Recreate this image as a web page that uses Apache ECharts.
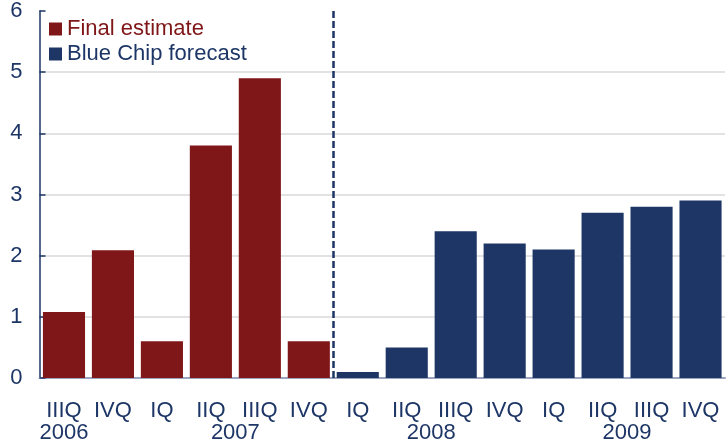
<!DOCTYPE html>
<html>
<head>
<meta charset="utf-8">
<script src="https://cdn.jsdelivr.net/npm/echarts@6/dist/echarts.min.js"></script>
<style>html,body{margin:0;padding:0;background:#fff}#c{width:728px;height:445px}</style>
</head>
<body>
<div id="c"></div>
<script>
const quarters = ['IIIQ','IVQ','IQ','IIQ','IIIQ','IVQ','IQ','IIQ','IIIQ','IVQ','IQ','IIQ','IIIQ','IVQ'];
const finalEstimate = [1.08, 2.09, 0.6, 3.8, 4.9, 0.6, null, null, null, null, null, null, null, null];
const blueChip = [null, null, null, null, null, null, 0.1, 0.5, 2.4, 2.2, 2.1, 2.7, 2.8, 2.9];
// year labels placed on a half-step axis (29 positions from 0 to 14)
const yearLabels = {1: '2006', 8: '2007', 16: '2008', 24: '2009'};
const forecastStartIndex = 6;

const RED = '#7f1618';
const BLUE = '#1d3666';
const FONT = 'Liberation Sans, Arial, sans-serif';

const halfSteps = [];
for (let i = 0; i <= 28; i++) halfSteps.push(yearLabels[i] || '');

const chart = echarts.init(document.getElementById('c'), null, {renderer: 'canvas'});
chart.setOption({
  animation: false,
  backgroundColor: '#fff',
  grid: {left: 39.5, right: 0, top: 10, bottom: 67, containLabel: false},
  legend: {
    orient: 'vertical', left: 44, top: 13,
    itemWidth: 13, itemHeight: 13, itemGap: 3,
    icon: 'rect',
    textStyle: {fontSize: 22, fontFamily: FONT},
    data: [
      {name: 'Final estimate', textStyle: {color: RED}},
      {name: 'Blue Chip forecast', textStyle: {color: BLUE}}
    ]
  },
  xAxis: [
    {
      type: 'category', data: quarters, boundaryGap: true,
      axisLine: {show: true, lineStyle: {color: '#9aa6c0', width: 2}},
      axisTick: {show: false},
      axisLabel: {color: BLUE, fontSize: 22, fontFamily: FONT, margin: 22, interval: 0},
      splitLine: {show: false}
    },
    {
      type: 'category', data: halfSteps, boundaryGap: false, position: 'bottom',
      axisLine: {show: false}, axisTick: {show: false}, splitLine: {show: false},
      axisLabel: {color: BLUE, fontSize: 22, fontFamily: FONT, margin: 44, interval: 0}
    },
    {
      type: 'value', min: 0, max: quarters.length, show: false,
      splitLine: {show: false}
    }
  ],
  yAxis: {
    type: 'value', min: 0, max: 6, interval: 1,
    axisLine: {show: true, lineStyle: {color: BLUE, width: 1.5}},
    axisTick: {show: true, inside: true, length: 6, lineStyle: {color: BLUE, width: 1.5}},
    axisLabel: {color: BLUE, fontSize: 22, fontFamily: FONT, margin: 17},
    splitLine: {show: true, showMaxLine: false, lineStyle: {color: '#d9d9d9', width: 1.5}}
  },
  series: [
    {name: 'Final estimate', type: 'bar', stack: 'a', data: finalEstimate,
     itemStyle: {color: RED}, barCategoryGap: '14%'},
    {name: 'Blue Chip forecast', type: 'bar', stack: 'a', data: blueChip,
     itemStyle: {color: BLUE}, barCategoryGap: '14%'},
    {name: 'divider', type: 'line', xAxisIndex: 2, data: [],
     markLine: {
       silent: true, symbol: ['none', 'none'], label: {show: false},
       lineStyle: {color: BLUE, width: 2.5, type: [7, 3]},
       data: [{xAxis: forecastStartIndex}]
     }}
  ]
});
</script>
</body>
</html>
